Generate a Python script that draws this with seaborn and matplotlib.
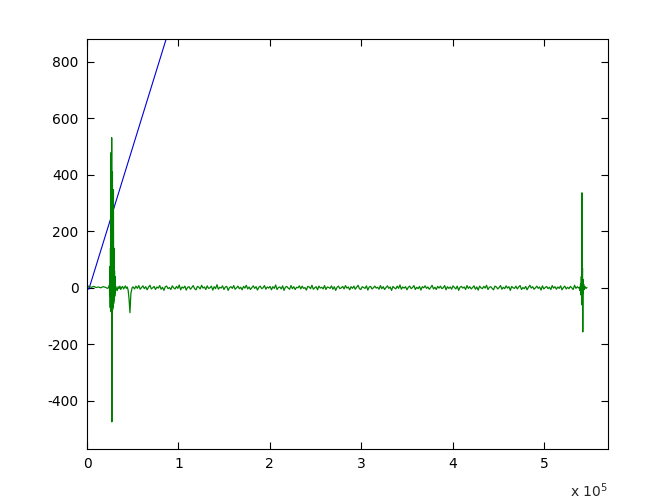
import numpy as np
import matplotlib
matplotlib.use("Agg")
import matplotlib.pyplot as plt
import seaborn as sns
from matplotlib.ticker import FuncFormatter

sns.set_theme(style="white")
plt.rcParams['font.family'] = ['DejaVu Sans']
plt.rcParams['axes.unicode_minus'] = False

# Blue series (straight line, runs off the top)
blue_x = [0, 2000, 100000]
blue_y = [5, -5, 1020]

# Green series pieces (x in samples, y values)
start_x = [0, 2500, 5000, 7500, 10000, 12500, 15000, 17500, 20000, 22500, 24000]
start_y = [8, 4, 2, 5, 1, 3, 0, 4, 2, -2, 3]

burst_x = [24500, 24800, 25100, 25400, 25700, 26000, 26200, 26400, 26600, 26800,
           27000, 27200, 27400, 27600, 27800, 28000, 28300, 28600, 28900, 29200,
           29500, 29800, 30100, 30400, 30700, 31000, 31500]
burst_y = [10, -30, 75, -70, 140, -65, 478, -85, 380, -60, 531, -474, 300, -142,
           410, -78, 200, -70, 347, -55, 140, -45, 60, -30, 40, -20, 5]

after_x = [33000, 34000, 35000, 36000, 37000, 38000, 39000, 40000, 41000, 42000,
           43000, 44000, 45000, 46000, 47000, 48000, 49500]
after_y = [-10, 4, -3, 6, -6, 2, 5, -4, 1, 7, -2, 3, -8, -40, -88, -20, 2]

noise_vals = [3, -4, 6, -2, 8, -5, 1, 7, -3, 4, -7, 2, 9, -4, 0, 5, -6, 3, -1, 8,
              -5, 2, -9, 4, 6, -3, 1, -6, 7, 0, -4, 5, -2, 10, -7, 3, -1, 6, -8, 2,
              4, -5, 1, 8, -3, -7, 5, 2, -4, 9, -1, 3, -6, 7, -2, 0, 6, -8, 4, -3,
              11, -5, 2, -1, 7, -6, 3, 5, -9, 1, 4, -2, 8, -5, 0, 6, -3, 2, -7, 5,
              -1, 9, -4, 3, -6, 1, 7, -2, 4, -8, 2, 6, -3, 0, 8, -5, 3, -1, 5, -7,
              4, -2, 10, -6, 1, 3, -4, 7, -9, 2, 5, -1, -5, 8, -3, 4, -6, 2, 0, 7,
              -4, 6, -2, 1, -8, 5, 3, -3, 9, -5, 0, 4, -7, 6, -1, 2, -4, 8, -6, 3,
              1, -2, 7, -5, 4, -9, 2, 6, -3, 0, 5, -4, 8, -1, 3, -7, 4, -2, 6, -5,
              2, 9, -3, -6, 4, 1, -2, 7, -8, 3, 5, -4, 0, 6, -1, 2, -5, 8, -3, 4,
              -6, 1, 7, -2, 3, -9, 5, 0, -4, 6, -2, 10, -5, 3, -1, 4, -7, 2, 6, -3,
              1, 8, -6, 2, -3, 5, -8, 4, 0, 7, -2, 3, -5, 1, 9, -4, 2, -6, 5, -1,
              6, -3, 0, 8, -7, 4, -2, 3, -5, 7, 1, -4, 6, -9, 2, 5, -1, 3, -6, 8,
              -2, 4, -4, 1, 7, -5, 3, -8, 6, 0, -3, 5, -1, 9, -6, 2, 4, -2, -7, 6,
              3, -4, 1, 8, -5, 2, -3, 7, -1, 4, -9, 5, 0, -2, 6, -4, 3, 8, -6, 1,
              -3, 5, -7, 2, 9, -1, 4, -5, 0, 6, -2, 3, -8, 7, -4, 1, 5, -3, 2, -6,
              8, -1, 4, -5, 3, -2, 7, -7, 1, 6, -4, 2, -3, 5, 0, -6, 9, -2, 4, -1]
noise_x = np.linspace(50500, 538000, len(noise_vals))

end_x = [538800, 539400, 540000, 540400, 540800, 541200, 541500, 541800, 542100,
         542400, 542700, 543000, 543400, 544000, 545000, 546000, 547000]
end_y = [2, -10, 15, -25, 40, -60, 336, -45, 70, -156, 30, -20, 12, -6, 4, -2, 1]

green_x = np.concatenate([start_x, burst_x, after_x, noise_x, end_x])
green_y = np.concatenate([start_y, burst_y, after_y, noise_vals, end_y])

fig = plt.figure(figsize=(6.72, 5.04), dpi=100)
fig.patch.set_facecolor('white')
ax = fig.add_axes([87/672, 1 - 449/504, 521/672, (449 - 38.7)/504])

sns.lineplot(x=blue_x, y=blue_y, ax=ax, color=(0, 0, 0.85), linewidth=0.8, sort=False)
sns.lineplot(x=green_x, y=green_y, ax=ax, color=(0, 0.5, 0), linewidth=0.9, sort=False)

ax.set_xlim(0, 570000)
ax.set_ylim(-570, 881)
ax.set_xticks([0, 100000, 200000, 300000, 400000, 500000])
ax.xaxis.set_major_formatter(FuncFormatter(lambda v, p: f"{v/1e5:g}"))
ax.set_yticks([-400, -200, 0, 200, 400, 600, 800])

for s in ax.spines.values():
    s.set_visible(True)
    s.set_color('black')
    s.set_linewidth(0.8)
ax.tick_params(direction='in', length=5, width=0.8, colors='black',
               top=True, right=True, bottom=True, left=True,
               labelsize=10, pad=6)
ax.set_facecolor('white')
ax.grid(False)

fig.text(570/672, 1 - 497/504, r"x 10$^5$", fontsize=10, ha='left', va='baseline')

fig.savefig("out.png", dpi=100, facecolor='white')
